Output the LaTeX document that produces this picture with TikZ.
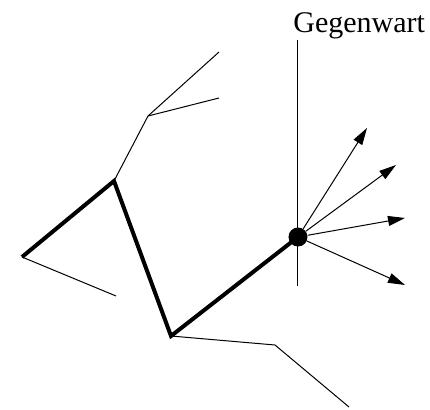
\documentclass[tikz,border=0pt]{standalone}
\usepackage{fontspec}
\setmainfont{Liberation Serif}
\usetikzlibrary{arrows.meta}
\begin{document}
\begin{tikzpicture}
        [x=0.5pt,y=0.5pt,
        weg/.style={line width=2pt,line join=miter},
        zweig/.style={line width=0.5pt},
        zukunft/.style={line width=0.5pt,-{Triangle[length=8.5pt,width=5pt]}},
        jetzt/.style={circle,fill=black,inner sep=0pt,minimum size=9.5pt}]
        \useasboundingbox (0,0) rectangle (430,409);
        % Weg bis zur Gegenwart
        \coordinate (w1) at (22,152);
        \coordinate (w2) at (114,228);
        \coordinate (w3) at (171,73);
        \node[jetzt] (g) at (298,172) {};
        % Zeitachse
        \coordinate (oben) at (298,369);
        \coordinate (unten) at (298,123);
        \node[anchor=base west,inner sep=0pt] (titel) at (293,377) {\fontsize{15}{18}\selectfont Gegenwart};
        \draw[zweig] (oben) -- (unten);
        % Nebenzweige
        \coordinate (z1) at (148,293);
        \coordinate (z2) at (219,357);
        \coordinate (z3) at (219,311);
        \coordinate (z4) at (116,113);
        \coordinate (z5) at (275,64);
        \coordinate (z6) at (349,2);
        \draw[zweig] (w2) -- (z1) -- (z2);
        \draw[zweig] (z1) -- (z3);
        \draw[zweig] (w1) -- (z4);
        \draw[zweig] (w3) -- (z5) -- (z6);
        \draw[weg] (w1) -- (w2) -- (w3) -- (g.center);
        % moegliche Zukuenfte
        \coordinate (f1) at (367,281);
        \coordinate (f2) at (396,244);
        \coordinate (f3) at (405,191);
        \coordinate (f4) at (405,124);
        \foreach \f in {f1,f2,f3,f4}
          \draw[zukunft] (g) -- (\f);
      \end{tikzpicture}
\end{document}
